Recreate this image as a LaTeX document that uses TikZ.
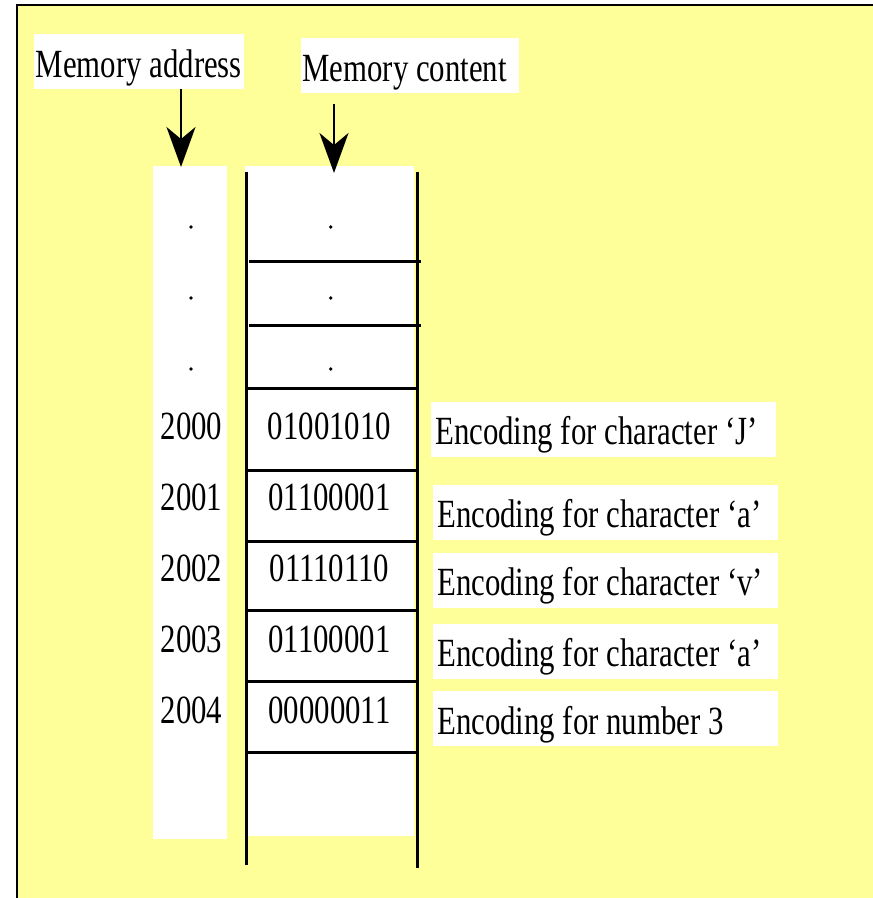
\documentclass[tikz,border=0pt]{standalone}
\usepackage{fontspec}
\setmainfont{Liberation Serif}[FakeStretch=0.77]
\usetikzlibrary{arrows.meta,positioning}
\definecolor{paper}{HTML}{FFFF99}
\newcommand{\flushtext}[2]{\makebox[#1][l]{#2}}

\begin{document}
\begin{tikzpicture}[x=1pt, y=-1pt,
  font=\fontsize{40pt}{48pt}\selectfont,
  tag/.style={fill=white, anchor=north west, inner xsep=4pt, inner ysep=0pt, text height=43pt, text depth=12pt},
  column/.style={fill=white, anchor=north west, inner sep=0pt},
  cell/.style={inner sep=0pt},
  dotmark/.style={circle, fill=black, inner sep=0pt, minimum size=3.8pt},
  wall/.style={line width=2.5pt},
  rule/.style={line width=3pt},
  arrow/.style={-{Stealth[length=40pt, width=29pt, inset=12pt]}, line width=2.5pt}
]
\useasboundingbox (0,0) rectangle (873,898);
\fill[paper] (17,5) rectangle (873,898);
\draw[line width=2pt] (17,898) -- (17,5) -- (873,5);

% headings
\node[tag, inner xsep=0pt, minimum width=210.6pt] (maddr) at (33.4,34) {Memory address};
\node[tag, inner xsep=1.5pt] (mcont) at (300.7,38) {\flushtext{215.3pt}{Memory content}};

% white backing of the two columns
\node[column, minimum width=74pt, minimum height=673pt] (addrcol) at (153,166) {};
\node[column, minimum width=169pt, minimum height=670pt] (memcol) at (245,166) {};

% cell walls
\draw[wall] (246.7,171.7) -- (246.7,865);
\draw[wall] (417.3,171.7) -- (417.3,868);
\draw[rule] (249,261) -- (421,261);
\draw[rule] (249,325) -- (421,325);
\draw[rule] (246.7,388) -- (417.3,388);
\draw[rule] (246.7,470) -- (417.3,470);
\draw[rule] (246.7,541) -- (417.3,541);
\draw[rule] (246.7,610) -- (417.3,610);
\draw[rule] (246.7,681.7) -- (417.3,681.7);
\draw[rule] (246.7,752.7) -- (417.3,752.7);

% unknown cells above
\node[dotmark] (ad1) at (191,227) {};
\node[dotmark] (ad2) at (191,298) {};
\node[dotmark] (ad3) at (191,369) {};
\node[dotmark] (cd1) at (330.7,227) {};
\node[dotmark] (cd2) at (330.7,298) {};
\node[dotmark] (cd3) at (330.7,369) {};

% addresses
\node[cell] (a2000) at (191.5,426.5) {2000};
\node[cell] (a2001) at (191.5,497.5) {2001};
\node[cell] (a2002) at (191.5,568.5) {2002};
\node[cell] (a2003) at (191.5,639.5) {2003};
\node[cell] (a2004) at (191.5,710.5) {2004};

% contents
\node[cell] (c2000) at (329.5,426.5) {01001010};
\node[cell] (c2001) at (329.5,497.5) {01100001};
\node[cell] (c2002) at (329.5,568.5) {01110110};
\node[cell] (c2003) at (329.5,639.5) {01100001};
\node[cell] (c2004) at (329.5,710.5) {00000011};

% what the bytes mean
\node[tag] (e2000) at (431,401.7) {\flushtext{336.7pt}{Encoding for character ‘J’}};
\node[tag] (e2001) at (433,484.7) {\flushtext{336.7pt}{Encoding for character ‘a’}};
\node[tag] (e2002) at (433,552.3) {\flushtext{336.7pt}{Encoding for character ‘v’}};
\node[tag] (e2003) at (433,623.3) {\flushtext{336.7pt}{Encoding for character ‘a’}};
\node[tag] (e2004) at (433,691) {\flushtext{336.7pt}{Encoding for number 3}};

% pointers
\coordinate (tipA) at (181,167);
\coordinate (tailB) at (334,104);
\coordinate (tipB) at (334,173);
\draw[arrow] (maddr.south -| tipA) -- (tipA);
\draw[arrow] (tailB) -- (tipB);
\end{tikzpicture}
\end{document}
